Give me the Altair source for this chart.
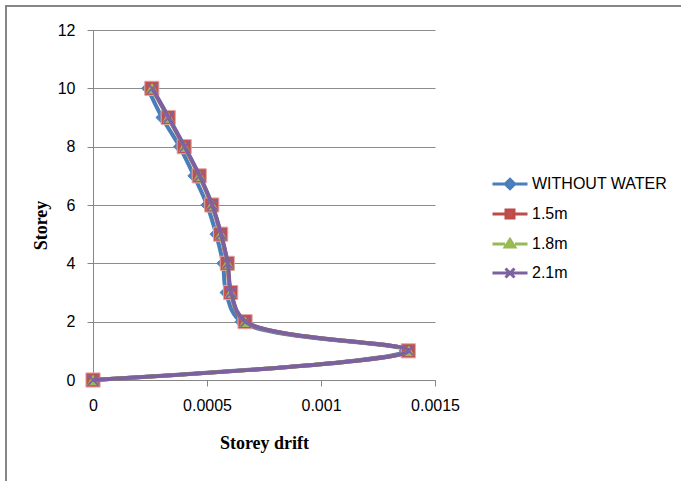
import altair as alt
import pandas as pd

storeys = [0, 1, 2, 3, 4, 5, 6, 7, 8, 9, 10]
without_water = [0, 0.001370, 0.000650, 0.000584, 0.000570, 0.000540, 0.000500, 0.000443, 0.000380, 0.000303, 0.000240]
w_1_5 = [0, 0.001383, 0.000667, 0.000604, 0.000589, 0.000560, 0.000521, 0.000466, 0.000400, 0.000330, 0.000258]
w_1_8 = [0, 0.001384, 0.000668, 0.000605, 0.000590, 0.000561, 0.000522, 0.000467, 0.000401, 0.000331, 0.000259]
w_2_1 = [0, 0.001385, 0.000669, 0.000606, 0.000591, 0.000562, 0.000523, 0.000468, 0.000402, 0.000332, 0.000260]

series_names = ["WITHOUT WATER", "1.5m", "1.8m", "2.1m"]
series_values = [without_water, w_1_5, w_1_8, w_2_1]
line_colors = ["#4A7EBB", "#BE4B48", "#98B954", "#7D60A0"]
fill_colors = ["#4F81BD", "#C0504D", "#9BBB59", "#8064A2"]

x_ticks = [0, 0.0005, 0.001, 0.0015]
y_ticks = [0, 2, 4, 6, 8, 10, 12]

rows = []
for name, vals in zip(series_names, series_values):
    for s, v in zip(storeys, vals):
        rows.append({"series": name, "storey": s, "drift": v})
df = pd.DataFrame(rows)

color_scale = alt.Scale(domain=series_names, range=line_colors)
fill_scale = alt.Scale(domain=series_names, range=fill_colors)

legend_shapes = [
    "M-3.5,0H-1M1,0H3.5M0,-0.95L0.95,0L0,0.95L-0.95,0Z",
    "M-3.5,0H-1M1,0H3.5M-0.8,-0.8H0.8V0.8H-0.8Z",
    "M-3.5,0H-1M1,0H3.5M0,-0.9L0.95,0.6L-0.95,0.6Z",
    "M-3.5,0H3.5M-0.9,-0.9L0.9,0.9M-0.9,0.9L0.9,-0.9",
]
shape_scale = alt.Scale(domain=series_names, range=legend_shapes)

legend = alt.Legend(
    title=None,
    orient="none",
    legendX=409,
    legendY=146,
    symbolSize=100,
    symbolStrokeWidth=3,
    symbolOpacity=1,
    labelOffset=14,
    rowPadding=9,
    labelFont="Liberation Sans",
    labelFontSize=16,
    labelColor="#000000",
)

x_enc = alt.X(
    "drift:Q",
    scale=alt.Scale(domain=[0, 0.0015], nice=False),
    axis=alt.Axis(
        values=x_ticks,
        labelExpr="datum.value == 0 ? '0' : format(datum.value, '~g')",
        labelFlush=False,
        labelPadding=11,
        title="Storey drift",
        grid=False,
        titleY=68,
        titleBaseline="alphabetic",
    ),
)
y_enc = alt.Y(
    "storey:Q",
    scale=alt.Scale(domain=[0, 12], nice=False),
    axis=alt.Axis(
        values=y_ticks,
        labelFlush=False,
        labelPadding=12,
        title="Storey",
        grid=True,
        titleX=-52,
        titleY=195,
        titleAngle=270,
        titleBaseline="middle",
        titleAlign="center",
    ),
)

marker_specs = {
    "WITHOUT WATER": dict(shape="diamond", size=150, filled=True, fill=fill_colors[0], stroke=fill_colors[0], strokeWidth=1),
    "1.5m": dict(shape="square", size=200, filled=True, fill=fill_colors[1], stroke="#E3A7A5", strokeWidth=1),
    "1.8m": dict(shape="triangle-up", size=120, filled=True, fill=fill_colors[2], stroke=fill_colors[2], strokeWidth=1),
    "2.1m": dict(shape="M-1,-1L1,1M-1,1L1,-1", size=100, filled=False, stroke=fill_colors[3], strokeWidth=1.8),
}

layers = []
frame = alt.Chart(alt.Data(values=[{"a": 1}])).mark_rect(
    filled=False, stroke="#868686", strokeWidth=2
).encode(
    x=alt.value(-87), x2=alt.value(700), y=alt.value(-24), y2=alt.value(520)
)
layers.append(frame)

for i, name in enumerate(series_names):
    base = alt.Chart(df).transform_filter(alt.datum.series == name)
    line = base.mark_line(interpolate="catmull-rom", strokeWidth=4).encode(
        x=x_enc,
        y=y_enc,
        order=alt.Order("storey:Q"),
        color=alt.Color("series:N", scale=color_scale, legend=None),
    )
    pts = base.mark_point(opacity=1, **marker_specs[name]).encode(x=x_enc, y=y_enc)
    layers.append(line)
    layers.append(pts)

legend_layer = alt.Chart(df).transform_filter(alt.datum.storey == 0).mark_point(
    filled=True, opacity=0, size=100
).encode(
    x=x_enc,
    y=y_enc,
    fill=alt.Fill("series:N", scale=fill_scale, legend=legend),
    stroke=alt.Stroke("series:N", scale=color_scale, legend=legend),
    shape=alt.Shape("series:N", scale=shape_scale, legend=legend),
)
layers.append(legend_layer)

chart = alt.layer(*layers).resolve_scale(color="independent").properties(
    width=342,
    height=350,
    autosize=alt.AutoSizeParams(type="none"),
    padding={"left": 93, "top": 30, "right": 246, "bottom": 101},
    background="white",
).configure_view(
    stroke=None
).configure_axis(
    domainColor="#868686",
    domainWidth=1,
    tickColor="#868686",
    tickSize=6,
    gridColor="#8C8C8C",
    gridWidth=1,
    labelFont="Liberation Sans",
    labelFontSize=16,
    labelColor="#000000",
    titleFont="Liberation Serif",
    titleFontSize=18,
    titleFontWeight="bold",
    titleColor="#000000",
)

chart.save("out.html", embed_options={"renderer": "svg", "actions": False})
